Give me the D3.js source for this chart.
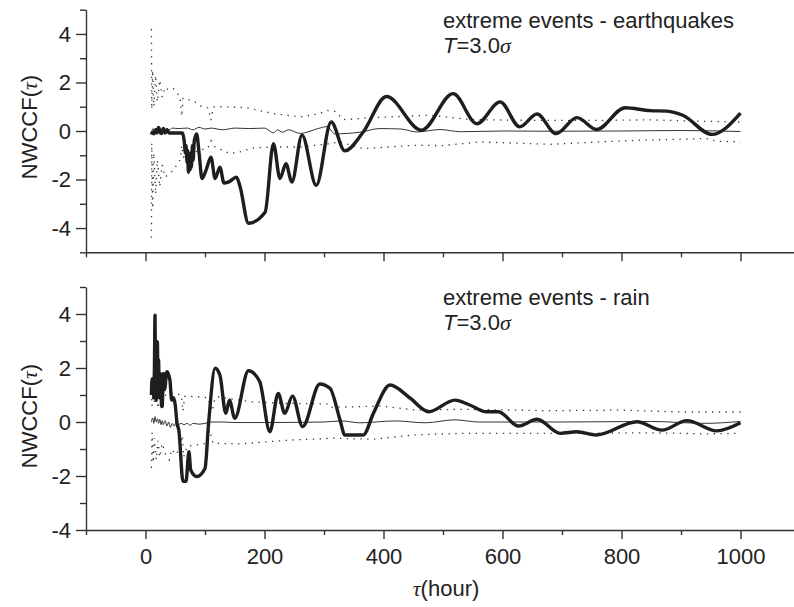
<!DOCTYPE html>
<html>
<head>
<meta charset="utf-8">
<script src="https://cdn.jsdelivr.net/npm/d3@7"></script>
<style>
  html, body { margin: 0; padding: 0; background: #fff; }
  svg { display: block; font-family: "Liberation Sans", Arial, sans-serif; }
  .axis path, .axis line { stroke: #333; stroke-width: 1.4px; }
  .axis text { font-size: 22px; fill: #222; font-family: "Liberation Sans", Arial, sans-serif; }
</style>
</head>
<body>
<svg id="chart"></svg>
<script>
(function () {

  var width = 794, height = 607;

  // ---- data: [tau, value] ----
  // top panel: extreme events - earthquakes
  var eqMain = [[10,-0.15],[12,-0.05],[14,-0.12],[17,0.05],[19,-0.08],[22,0.15],[24,-0.05],[27,-0.1],[30,0.1],[33,-0.08],[36,0.05],[40,-0.08],[45,-0.08],[55,-0.08],[62,-0.08],[65,-0.4],[67,-0.9],[68,-0.6],[70,-1.3],[71,-0.8],[72,-1.7],[73,-1.0],[75,-1.6],[76,-0.9],[77,-1.5],[79,-0.6],[80,-1.2],[82,-0.4],[86,-0.12],[90,-0.9],[95,-1.96],[102,-1.6],[110,-1.08],[117,-1.96],[125,-1.49],[132,-2.15],[140,-2.1],[153,-1.9],[159,-2.3],[173,-3.8],[201,-3.35],[215,-0.52],[226,-1.96],[236,-1.35],[246,-2.1],[263,-0.17],[287,-2.24],[312,0.37],[335,-0.82],[366,-0.04],[405,1.42],[464,0.03],[517,1.54],[557,0.3],[596,1.2],[629,0.17],[658,0.7],[690,-0.11],[725,0.55],[758,0.06],[806,0.96],[848,0.84],[876,0.82],[903,0.65],[952,-0.14],[1000,0.74]];
  var eqMean = [[10,-0.05],[13,0.1],[15,-0.05],[18,0.12],[21,0.0],[24,0.15],[27,0.02],[30,0.12],[33,0.0],[36,0.1],[40,0.05],[45,0.12],[55,0.1],[70,0.12],[80,0.05],[90,0.15],[100,0.08],[110,0.12],[130,0.05],[150,0.12],[175,0.1],[200,0.12],[215,-0.08],[222,0.05],[230,-0.05],[240,0.05],[260,-0.1],[290,0.1],[305,0.18],[318,-0.12],[360,-0.05],[394,0.1],[430,0.08],[456,-0.04],[495,0.06],[530,-0.03],[600,0.0],[680,-0.01],[800,0.0],[900,0.02],[1000,-0.02]];
  var eqUpper = [[10,4.2],[10.5,0.9],[12,2.5],[14,1.0],[17,2.3],[20,1.2],[24,2.1],[28,1.4],[33,1.8],[38,1.7],[47,1.75],[55,1.5],[58,1.4],[61,0.6],[63,1.35],[70,1.3],[80,1.26],[95,1.0],[105,0.95],[110,0.45],[114,0.99],[130,1.0],[170,0.96],[190,0.85],[215,0.72],[260,0.58],[290,0.7],[305,0.85],[320,0.8],[332,0.47],[382,0.55],[478,0.65],[545,0.47],[646,0.44],[775,0.44],[850,0.46],[915,0.41],[1000,0.37]];
  var eqLower = [[10,-4.4],[10.5,-0.5],[12,-3.2],[14,-0.9],[17,-2.6],[20,-1.2],[24,-2.3],[28,-1.4],[33,-1.9],[38,-1.8],[47,-1.62],[55,-1.3],[58,-1.2],[61,-0.6],[64,-1.07],[70,-1.0],[90,-0.8],[105,-0.7],[110,-0.4],[117,-0.66],[142,-0.93],[160,-0.85],[180,-0.7],[215,-0.66],[260,-0.66],[310,-0.52],[327,-0.45],[366,-0.73],[450,-0.59],[500,-0.6],[562,-0.45],[680,-0.55],[760,-0.45],[831,-0.38],[943,-0.31],[960,-0.42],[1000,-0.45]];

  // bottom panel: extreme events - rain
  var rainMain = [[10,1.0],[11,1.6],[12,1.1],[13,1.5],[14,0.9],[15,2.0],[16,3.96],[17,1.2],[18,0.8],[19,2.2],[20,2.97],[21,1.0],[22,2.3],[23,0.9],[25,1.8],[27,0.6],[28,0.57],[30,1.8],[32,1.2],[36,1.86],[41,1.56],[44,0.81],[47,0.9],[50,0.63],[53,-0.05],[56,-0.3],[63,-2.2],[68,-2.2],[73,-1.1],[76,-1.78],[86,-2.02],[100,-1.72],[106,-0.05],[117,1.99],[125,1.74],[135,0.32],[141,0.81],[150,0.14],[173,1.9],[192,1.49],[209,-0.36],[223,1.06],[234,0.32],[247,0.96],[264,-0.17],[293,1.41],[310,1.25],[327,0.07],[335,-0.48],[366,-0.48],[383,0.32],[411,1.37],[445,0.88],[476,0.38],[520,0.81],[545,0.63],[573,0.38],[593,0.38],[627,-0.15],[658,0.1],[697,-0.42],[725,-0.36],[758,-0.48],[826,0.01],[868,-0.3],[910,0.05],[960,-0.33],[1000,-0.03]];
  var rainMean = [[10,0.0],[12,0.15],[14,-0.05],[16,0.2],[18,0.0],[20,0.12],[22,-0.05],[24,0.1],[26,-0.1],[28,0.05],[30,-0.1],[33,0.05],[36,-0.15],[39,0.0],[42,-0.2],[45,-0.05],[48,-0.15],[52,0.0],[55,-0.1],[60,-0.05],[65,-0.1],[70,-0.05],[75,-0.12],[80,-0.05],[90,-0.08],[100,-0.05],[110,0.0],[130,0.0],[150,-0.02],[200,-0.02],[300,0.0],[330,0.04],[360,-0.03],[420,0.04],[470,-0.03],[520,0.08],[560,0.0],[700,0.0],[850,0.02],[940,-0.05],[1000,0.02]];
  var rainUpper = [[10,1.1],[11,0.6],[13,1.2],[15,0.7],[18,1.0],[21,0.5],[24,1.0],[28,0.7],[34,1.0],[42,1.05],[53,1.04],[60,1.0],[63,0.4],[66,0.95],[86,0.94],[105,0.9],[112,0.4],[116,0.8],[120,0.94],[176,0.75],[237,0.69],[305,0.67],[310,0.54],[394,0.59],[456,0.44],[534,0.47],[680,0.42],[800,0.44],[900,0.37],[1000,0.37]];
  var rainLower = [[10,-1.7],[11,-0.4],[13,-1.5],[15,-0.6],[18,-1.4],[21,-0.7],[24,-1.3],[28,-0.8],[34,-1.2],[40,-1.4],[44,-1.01],[50,-1.2],[58,-1.0],[62,-0.5],[64,-1.3],[70,-0.9],[100,-0.8],[108,-0.3],[112,-0.7],[114,-0.79],[159,-0.81],[243,-0.67],[316,-0.6],[383,-0.64],[450,-0.48],[534,-0.42],[680,-0.42],[850,-0.4],[943,-0.44],[1000,-0.42]];

  var xMajor = [0, 200, 400, 600, 800, 1000];
  var xMinor = [-100, 100, 300, 500, 700, 900, 1100];
  var yMajor = [-4, -2, 0, 2, 4];
  var yMinor = [-5, -3, -1, 1, 3, 5];

  var svg = d3.select('#chart')
    .attr('width', width)
    .attr('height', height);

  var x = d3.scaleLinear().domain([-100, 1100]).range([86, 800]);

  // plain hyphen for negatives, as in the figure
  var fmt = function (d) { return d < 0 ? '-' + Math.abs(d) : String(d); };

  var panels = [
    { title: 'extreme events - earthquakes', main: eqMain, mean: eqMean, upper: eqUpper, lower: eqLower,
      y: d3.scaleLinear().domain([-5, 5]).range([252.3, 9.7]), labels: false, textY: 28, labelY: 127 },
    { title: 'extreme events - rain', main: rainMain, mean: rainMean, upper: rainUpper, lower: rainLower,
      y: d3.scaleLinear().domain([-4, 5]).range([530, 287]), labels: true, textY: 305, labelY: 416 }
  ];

  panels.forEach(function (p) {
    var y = p.y;
    var g = svg.append('g');
    var x0 = y.range()[0];

    // dotted bounds
    var dotted = d3.line().x(function (d) { return x(d[0]); }).y(function (d) { return y(d[1]); });
    [p.upper, p.lower].forEach(function (s) {
      g.append('path').datum(s)
        .attr('d', dotted)
        .attr('fill', 'none')
        .attr('stroke', '#333')
        .attr('stroke-width', 1.3)
        .attr('stroke-dasharray', '1.3,5.5');
    });

    var smooth = d3.line().curve(d3.curveMonotoneX)
      .x(function (d) { return x(d[0]); }).y(function (d) { return y(d[1]); });

    g.append('path').datum(p.mean)
      .attr('d', smooth)
      .attr('fill', 'none')
      .attr('stroke', '#333')
      .attr('stroke-width', 1);

    g.append('path').datum(p.main)
      .attr('d', smooth)
      .attr('fill', 'none')
      .attr('stroke', '#1e1e1e')
      .attr('stroke-width', 3.4)
      .attr('stroke-linejoin', 'round');

    // axes
    var ax = g.append('g').attr('class', 'axis').attr('transform', 'translate(0,' + x0 + ')');
    ax.call(d3.axisBottom(x).tickValues(xMajor).tickSize(9).tickSizeOuter(0).tickPadding(9)
      .tickFormat(p.labels ? fmt : function () { return ''; }));
    ax.append('g').call(d3.axisBottom(x).tickValues(xMinor).tickSize(5).tickFormat(''))
      .select('.domain').remove();

    var ay = g.append('g').attr('class', 'axis').attr('transform', 'translate(86,0)');
    ay.call(d3.axisLeft(y).tickValues(yMajor).tickSize(10).tickSizeOuter(0).tickPadding(5).tickFormat(fmt));
    ay.append('g').call(d3.axisLeft(y).tickValues(yMinor.filter(function (v) {
      return v >= y.domain()[0] && v <= y.domain()[1];
    })).tickSize(6).tickFormat('')).select('.domain').remove();

    // y title
    var yt = g.append('text')
      .attr('transform', 'translate(37,' + p.labelY + ') rotate(-90)')
      .attr('text-anchor', 'middle')
      .attr('font-size', 22)
      .attr('fill', '#222');
    yt.append('tspan').text('NWCCF(');
    yt.append('tspan').attr('font-family', '"Liberation Serif", serif').attr('font-style', 'italic').text('\u03c4');
    yt.append('tspan').text(')');

    // annotation
    g.append('text')
      .attr('x', 443).attr('y', p.textY)
      .attr('font-size', 22).attr('fill', '#222')
      .text(p.title);
    var t2 = g.append('text')
      .attr('x', 443).attr('y', p.textY + 25)
      .attr('font-size', 22).attr('fill', '#222');
    t2.append('tspan').attr('font-style', 'italic').text('T');
    t2.append('tspan').text('=3.0');
    t2.append('tspan').attr('font-family', '"Liberation Serif", serif').attr('font-style', 'italic').text('\u03c3');
  });

  // x title
  var xt = svg.append('text')
    .attr('x', 446).attr('y', 596)
    .attr('text-anchor', 'middle')
    .attr('font-size', 22)
    .attr('fill', '#222');
  xt.append('tspan').attr('font-family', '"Liberation Serif", serif').attr('font-style', 'italic').text('\u03c4');
  xt.append('tspan').text('(hour)');

})();
</script>
</body>
</html>
